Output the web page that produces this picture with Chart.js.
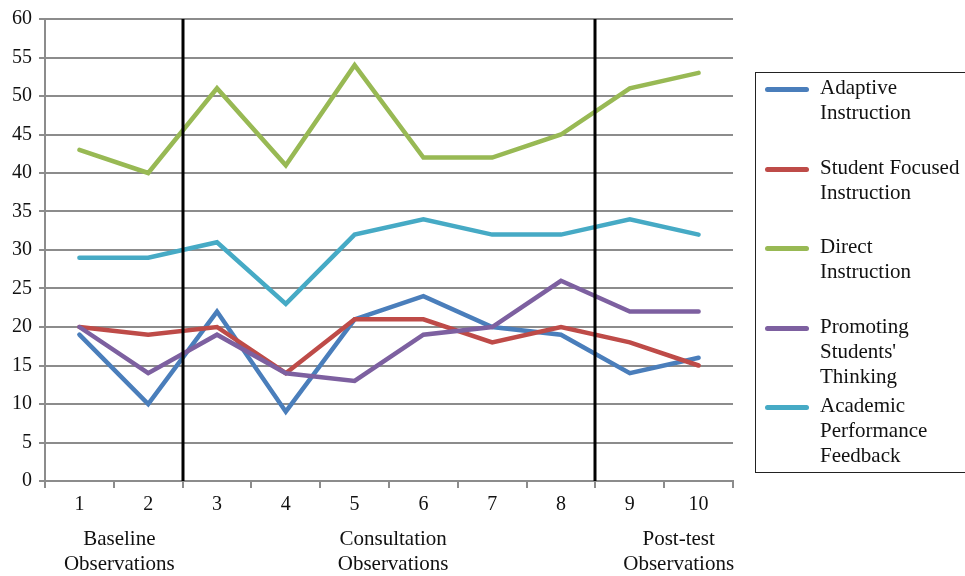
<!DOCTYPE html>
<html>
<head>
<meta charset="utf-8">
<script src="https://cdn.jsdelivr.net/npm/chart.js@4/dist/chart.umd.min.js"></script>
<style>
  html, body { margin: 0; padding: 0; background: #fff; overflow: hidden; }
  #wrap { position: relative; width: 965px; height: 576px; overflow: hidden; }
  #legend {
    position: absolute; left: 755px; top: 72px; width: 215px; height: 401px;
    border: 1.5px solid #222; box-sizing: border-box;
    font-family: "Liberation Serif", "Times New Roman", serif; font-size: 21px; color: #111;
  }
  .entry { position: absolute; left: 0; }
  .swatch { position: absolute; left: 9px; top: 12px; width: 44px; height: 5px; border-radius: 3px; }
  .text { position: absolute; left: 64px; top: 0; line-height: 25px; white-space: nowrap; }
</style>
</head>
<body>
<div id="wrap">
  <canvas id="chart" width="965" height="576"></canvas>
  <div id="legend"></div>
</div>
<script>
// Observation sessions
const sessions = ['1', '2', '3', '4', '5', '6', '7', '8', '9', '10'];

// Observed behaviour counts per session
const adaptiveInstruction       = [19, 10, 22, 9, 21, 24, 20, 19, 14, 16];
const studentFocusedInstruction = [20, 19, 20, 14, 21, 21, 18, 20, 18, 15];
const directInstruction         = [43, 40, 51, 41, 54, 42, 42, 45, 51, 53];
const promotingThinking         = [20, 14, 19, 14, 13, 19, 20, 26, 22, 22];
const academicFeedback          = [29, 29, 31, 23, 32, 34, 32, 32, 34, 32];

// Legend names, one entry per line of text
const seriesNames = [
  ['Adaptive', 'Instruction'],
  ['Student Focused', 'Instruction'],
  ['Direct', 'Instruction'],
  ['Promoting', "Students'", 'Thinking'],
  ['Academic', 'Performance', 'Feedback']
];
const seriesColors = ['#4A7EBB', '#BE4B48', '#98B954', '#7D60A0', '#46AAC5'];
const seriesValues = [adaptiveInstruction, studentFocusedInstruction, directInstruction, promotingThinking, academicFeedback];

// Phase boundaries (between sessions 2|3 and 8|9) and phase titles
const phaseBreaks = [1.5, 7.5];
const phaseTitles = [
  ['Baseline', 'Observations'],
  ['Consultation', 'Observations'],
  ['Post-test', 'Observations']
];

const serif = '"Liberation Serif", "Times New Roman", serif';

const phasePlugin = {
  id: 'phases',
  afterDatasetsDraw(chart, args, opts) {
    const { ctx, chartArea, scales: { x } } = chart;
    ctx.save();
    ctx.strokeStyle = '#000';
    ctx.lineWidth = 3;
    phaseBreaks.forEach(b => {
      const px = Math.round(x.getPixelForValue(b));
      ctx.beginPath();
      ctx.moveTo(px, chartArea.top);
      ctx.lineTo(px, chartArea.bottom);
      ctx.stroke();
    });
    ctx.fillStyle = '#111';
    ctx.font = '21px ' + serif;
    ctx.textAlign = 'center';
    ctx.textBaseline = 'middle';
    phaseTitles.forEach((lines, i) => {
      const px = x.getPixelForValue(opts.centers[i]);
      lines.forEach((t, j) => ctx.fillText(t, px, opts.firstLine + j * 25));
    });
    ctx.restore();
  }
};

const n = seriesValues.length;
const chart = new Chart(document.getElementById('chart'), {
  type: 'line',
  data: {
    labels: sessions,
    datasets: seriesValues.map((vals, i) => ({
      label: seriesNames[i].join(' '),
      data: vals,
      borderColor: seriesColors[i],
      backgroundColor: seriesColors[i],
      borderWidth: 4.5,
      borderCapStyle: 'round',
      borderJoinStyle: 'miter',
      pointRadius: 0,
      tension: 0,
      order: n - i
    }))
  },
  options: {
    responsive: false,
    animation: false,
    layout: { padding: { top: 19, right: 232, left: 0, bottom: 0 } },
    plugins: {
      legend: { display: false },
      tooltip: { enabled: false },
      phases: { centers: [0.58, 4.56, 8.71], firstLine: 539 }
    },
    scales: {
      x: {
        offset: true,
        grid: { drawOnChartArea: false, drawTicks: true, tickLength: 7, offset: true, color: '#8c8c8c', lineWidth: 2 },
        border: { color: '#8c8c8c', width: 2 },
        ticks: { color: '#111', font: { family: serif, size: 20 }, padding: 5, maxRotation: 0 },
        afterFit(s) { s.height = 95; }
      },
      y: {
        min: 0, max: 60,
        ticks: { stepSize: 5, color: '#111', font: { family: serif, size: 20 }, padding: 7 },
        grid: { color: '#8c8c8c', lineWidth: 2, tickLength: 6 },
        border: { color: '#8c8c8c', width: 2 },
        afterFit(s) { s.width = 45; }
      }
    }
  },
  plugins: [phasePlugin]
});

// Legend built from the chart's datasets
const legend = document.getElementById('legend');
chart.data.datasets.forEach((ds, i) => {
  const e = document.createElement('div');
  e.className = 'entry';
  e.style.top = (2 + i * 79.5) + 'px';
  const sw = document.createElement('div');
  sw.className = 'swatch';
  sw.style.background = ds.borderColor;
  const tx = document.createElement('div');
  tx.className = 'text';
  tx.innerHTML = seriesNames[i].map(s => s.replace(/&/g, '&amp;').replace(/</g, '&lt;')).join('<br>');
  e.appendChild(sw);
  e.appendChild(tx);
  legend.appendChild(e);
});
</script>
</body>
</html>
